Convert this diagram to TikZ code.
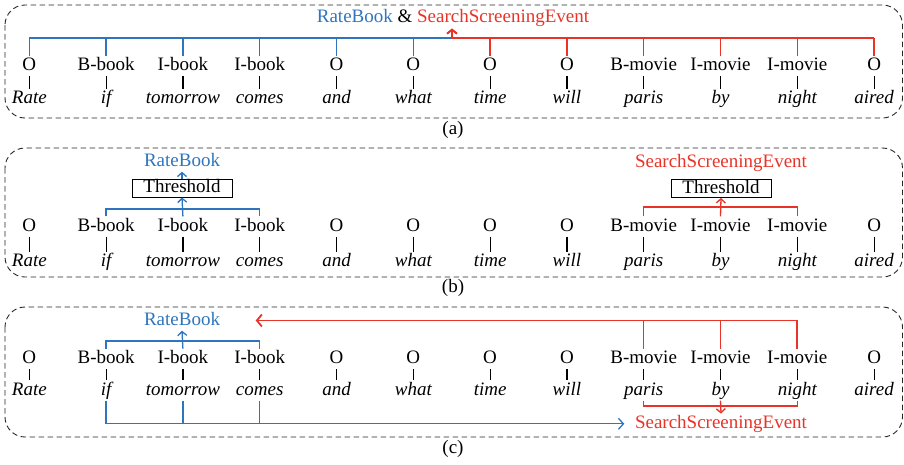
\documentclass[tikz,border=0pt]{standalone}
\usepackage{fontspec}
\setmainfont{Liberation Serif}
\usetikzlibrary{arrows.meta}
\definecolor{cblue}{RGB}{46,117,190}
\definecolor{cred}{RGB}{232,52,40}
\begin{document}
\begin{tikzpicture}[x=1pt,y=-1pt,
  txt/.style={font=\fontsize{19}{22}\selectfont, inner sep=1.5pt, text height=13pt, text depth=4pt, anchor=base},
  tagtxt/.style={txt},
  wordtxt/.style={txt, font=\fontsize{19}{22}\selectfont\itshape},
  captxt/.style={font=\fontsize{19}{22}\selectfont, inner sep=0pt},
  thbox/.style={draw=black, line width=1pt, font=\fontsize{19}{22}\selectfont, inner sep=0pt, minimum width=100pt, minimum height=18pt, text height=13pt, text depth=4pt},
  framebox/.style={draw=black!85, dash pattern=on 5.5pt off 3.5pt, rounded corners=20pt, line width=0.9pt},
  ticklink/.style={draw=black, line width=1.2pt},
  bl/.style={draw=cblue, line width=1.3pt},
  rl/.style={draw=cred, line width=1.3pt},
  tipsmall/.style={-{Straight Barb[length=4pt,width=9pt]}},
  tipbig/.style={-{Straight Barb[length=5pt,width=11pt]}},
]
\useasboundingbox (0,0) rectangle (904,464);

% frames
\draw[framebox] (5,5) rectangle (902.5,118);
\draw[framebox] (5,148) rectangle (902.5,277);
\draw[framebox] (5,307) rectangle (902.5,437);

\node[captxt] (capa) at (453,129.5) {(a)};
\node[captxt] (capb) at (453,288) {(b)};
\node[captxt] (capc) at (453,449) {(c)};

% ---------- tags and words ----------
\foreach \p/\ty/\wy in {a/70.7/103.3, b/231/266.7, c/363.3/395}{
  \foreach \t [count=\i from 0] in {O,B-book,I-book,I-book,O,O,O,O,B-movie,I-movie,I-movie,O}
    \node[tagtxt] (\p t\i) at ({29.3+76.8*\i},\ty) {\t};
  \foreach \w [count=\i from 0] in {Rate,if,tomorrow,comes,and,what,time,will,paris,by,night,aired}
    \node[wordtxt] (\p w\i) at ({29.3+76.8*\i},\wy) {\w};
  \foreach \i in {0,...,11}
    \draw[ticklink] (\p t\i) -- (\p w\i);
}

% ---------- panel (a) ----------
\node[txt] (la) at (453,22.7) {\textcolor{cblue}{RateBook} \& \textcolor{cred}{SearchScreeningEvent}};
\coordinate (ja) at (452,38);
\foreach \i in {0,...,5}
  \draw[bl] (at\i.north) -- (at\i.north |- ja);
\foreach \i in {6,...,11}
  \draw[rl] (at\i.north) -- (at\i.north |- ja);
\draw[bl, line width=2pt] (at0.north |- ja) -- (ja);
\draw[rl, line width=2pt] (ja) -- (at11.north |- ja);
\draw[rl, line width=2pt, -{Straight Barb[length=4pt,width=10pt]}] (ja) -- (ja |- la.south);

% ---------- panel (b) ----------
\node[thbox] (thb) at (182,188) {Threshold};
\node[txt, text=cblue] (lb1) at (182,166) {RateBook};
\coordinate (bb1) at (0,209);
\draw[bl] (bt1.north) -- (bt1.north |- bb1) -| (bt3.north);
\draw[bl, tipsmall] (bt2.north) -- (thb.south);
\draw[bl, tipsmall] (thb.north) -- (lb1.south);

\node[thbox] (thr) at (721,188.5) {Threshold};
\node[txt, text=cred] (lb2) at (721,167) {SearchScreeningEvent};
\coordinate (bb2) at (0,207);
\draw[rl] (bt8.north) -- (bt8.north |- bb2) -| (bt10.north);
\draw[rl, tipsmall] (bt9.north) -- (thr.south);

% ---------- panel (c) ----------
\node[txt, text=cblue] (lc1) at (182,325) {RateBook};
\node[txt, text=cred] (lc2) at (721,428.3) {SearchScreeningEvent};
\coordinate (cb1) at (0,341);
\draw[bl] (ct1.north) -- (ct1.north |- cb1) -| (ct3.north);
\draw[bl, tipsmall] (ct2.north) -- (lc1.south);
% blue bottom to SearchScreeningEvent
\draw[bl, tipbig] (cw1.south) |- ([xshift=-9pt]lc2.west);
\foreach \i in {2,3}
  \draw[bl] (cw\i.south) -- (cw\i.south |- lc2.west);
% red top to RateBook
\draw[rl, line width=1.8pt, -{Straight Barb[length=5pt,width=12pt]}] (ct10.north) |- ([xshift=34pt]lc1.east);
\foreach \i in {8,9}
  \draw[rl] (ct\i.north) -- (ct\i.north |- lc1.east);
% red bottom bracket
\coordinate (cb2) at (0,406);
\draw[rl] (cw8.south) -- (cw8.south |- cb2) -| (cw10.south);
\draw[rl, tipsmall] (cw9.south) -- (lc2.north);
\end{tikzpicture}
\end{document}
